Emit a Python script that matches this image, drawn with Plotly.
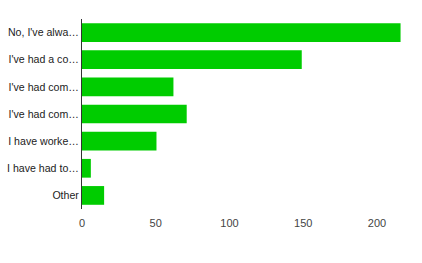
import plotly.graph_objects as go

categories = ["No, I've alwa…", "I've had a co…", "I've had com…", "I've had com…",
              "I have worke…", "I have had to…", "Other"]
values = [216, 149, 62, 71, 50.5, 6, 15]
x_ticks = [0, 50, 100, 150, 200]

positions = list(range(len(categories)))

fig = go.Figure(go.Bar(
    x=values, y=positions, orientation="h",
    marker=dict(color="#00CC00", line=dict(width=0)),
    width=0.69,
))
fig.update_layout(
    width=422, height=263,
    margin=dict(l=82, r=12, t=19, b=54),
    paper_bgcolor="white", plot_bgcolor="white",
    font=dict(family="Liberation Sans, Arial", size=11, color="#222222"),
    showlegend=False,
    xaxis=dict(range=[0, 222.4], tickvals=x_ticks, showgrid=False, zeroline=False,
               showline=False, ticks="outside", ticklen=4, tickcolor="rgba(0,0,0,0)",
               tickfont=dict(color="#444444", size=11), automargin=False),
    yaxis=dict(range=[len(categories) - 0.5, -0.5], tickvals=positions, ticktext=categories,
               showline=True, linecolor="#333333", linewidth=1, zeroline=False,
               showgrid=False, ticks="", tickfont=dict(color="#222222", size=10.6),
               ticklabelstandoff=0, automargin=False),
    bargap=0.31,
)
fig.write_html("out.html")
